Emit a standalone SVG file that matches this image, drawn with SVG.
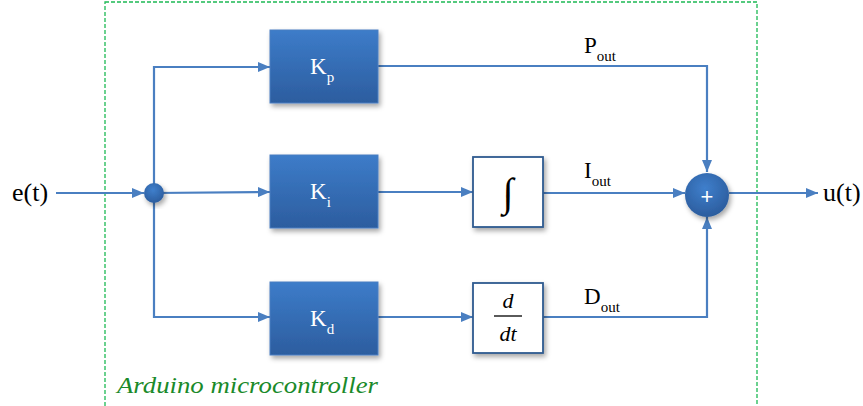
<svg xmlns="http://www.w3.org/2000/svg" width="863" height="406" viewBox="0 0 863 406">
<defs>
<linearGradient id="bg" x1="0" y1="0" x2="0" y2="1">
<stop offset="0" stop-color="#3d7cc9"/>
<stop offset="1" stop-color="#2c5d9f"/>
</linearGradient>
<radialGradient id="cg" cx="0.45" cy="0.35" r="0.7">
<stop offset="0" stop-color="#3f7fcc"/>
<stop offset="1" stop-color="#2a5a9a"/>
</radialGradient>
<filter id="sh" x="-20%" y="-20%" width="150%" height="150%">
<feDropShadow dx="2" dy="3" stdDeviation="2.5" flood-color="#000" flood-opacity="0.35"/>
</filter>
<marker id="ah" markerWidth="12" markerHeight="10" refX="12" refY="5" orient="auto" markerUnits="userSpaceOnUse">
<path d="M0,0 L12,5 L0,10 Z" fill="#4a7fc1"/>
</marker>
</defs>
<style>
.ln{fill:none;stroke:#4a7fc1;stroke-width:2.2}
.blk{fill:url(#bg);stroke:#4a7fc1;stroke-width:1;filter:url(#sh)}
.wb{fill:#fff;stroke:#2f5a8f;stroke-width:1.8;filter:url(#sh)}
text{font-family:"Liberation Serif","Times New Roman",serif}
.t{fill:#000}
.wt{fill:#fff}
</style>
<rect x="105" y="2" width="652" height="420" fill="none" stroke="#1db954" stroke-width="1.3" stroke-dasharray="4,2"/>
<g id="connectors">
<line class="ln" x1="56" y1="193" x2="144" y2="193" marker-end="url(#ah)"/>
<polyline class="ln" points="154,193 154,67 270,67" marker-end="url(#ah)"/>
<line class="ln" x1="154" y1="193" x2="270" y2="192" marker-end="url(#ah)"/>
<polyline class="ln" points="154,193 154,317 270,317" marker-end="url(#ah)"/>
<line class="ln" x1="378" y1="192" x2="473" y2="192" marker-end="url(#ah)"/>
<line class="ln" x1="378" y1="317" x2="473" y2="317" marker-end="url(#ah)"/>
<polyline class="ln" points="378,66 707,66 707,172" marker-end="url(#ah)"/>
<line class="ln" x1="543" y1="193" x2="685" y2="193" marker-end="url(#ah)"/>
<polyline class="ln" points="543,317 707,317 707,217" marker-end="url(#ah)"/>
<line class="ln" x1="729" y1="193" x2="818" y2="193" marker-end="url(#ah)"/>
</g>
<g id="input"><text class="t" x="12" y="201" font-size="26">e(t)</text></g>
<g id="junction"><circle cx="154" cy="193" r="10" fill="url(#cg)" filter="url(#sh)"/></g>
<g id="kp"><rect class="blk" x="270" y="30" width="108" height="73"/><text class="wt" x="310" y="74" font-size="23">K<tspan font-size="15" dy="8">p</tspan></text></g>
<g id="ki"><rect class="blk" x="270" y="155" width="108" height="73"/><text class="wt" x="310" y="199" font-size="23">K<tspan font-size="15" dy="8">i</tspan></text></g>
<g id="kd"><rect class="blk" x="270" y="282" width="108" height="73"/><text class="wt" x="310" y="326" font-size="23">K<tspan font-size="15" dy="8">d</tspan></text></g>
<g id="integral"><rect class="wb" x="473" y="157" width="70" height="70"/><text class="t" x="508" y="206" font-size="40" font-style="italic" text-anchor="middle">∫</text></g>
<g id="deriv"><rect class="wb" x="473" y="283" width="70" height="70"/>
<text class="t" x="508" y="308" font-size="22" font-style="italic" text-anchor="middle">d</text>
<line x1="494" y1="316" x2="522" y2="316" stroke="#000" stroke-width="1.3"/>
<text class="t" x="508" y="341" font-size="22" font-style="italic" text-anchor="middle">dt</text></g>
<g id="sum"><circle cx="707" cy="195" r="22" fill="url(#cg)" filter="url(#sh)"/><text x="707" y="204" style="font-family:'Liberation Sans',sans-serif" font-size="22" fill="#fff" text-anchor="middle">+</text></g>
<g id="labels">
<text class="t" x="584" y="53" font-size="23">P<tspan font-size="15" dy="8">out</tspan></text>
<text class="t" x="584" y="178" font-size="23">I<tspan font-size="15" dy="8">out</tspan></text>
<text class="t" x="584" y="304" font-size="23">D<tspan font-size="15" dy="8">out</tspan></text>
</g>
<g id="output"><text class="t" x="823" y="201" font-size="26">u(t)</text></g>
<text x="117" y="393" font-style="italic" font-size="24" fill="#1a8a2a" textLength="261" lengthAdjust="spacingAndGlyphs">Arduino microcontroller</text>
</svg>
